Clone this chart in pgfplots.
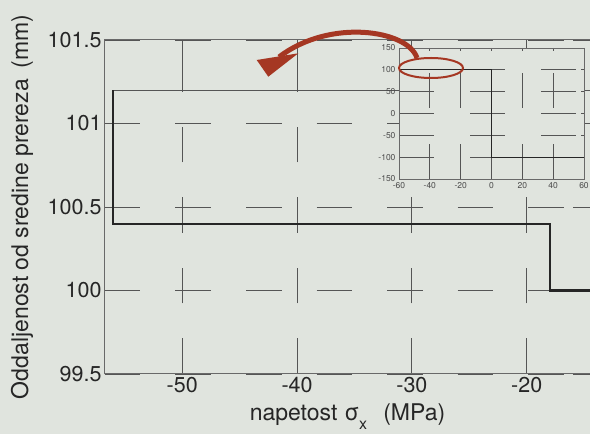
\documentclass[border=0pt]{standalone}
\usepackage{pgfplots}
\pgfplotsset{compat=1.18}
\usepackage{fontspec}
\setmainfont{TeX Gyre Heros}
\definecolor{paper}{RGB}{224,228,222}
\definecolor{arrowred}{RGB}{165,55,35}
\definecolor{gridgray}{RGB}{85,85,85}
\definecolor{framegray}{RGB}{105,105,105}

\begin{document}
\begin{tikzpicture}[x=1pt,y=1pt]
\path[use as bounding box] (0,0) rectangle (590,434);
\clip (0,0) rectangle (590,434);
\fill[paper] (0,0) rectangle (590,434);

% main plot
\begin{axis}[
  at={(105pt,60pt)}, anchor=south west,
  scale only axis, width=485pt, height=334pt,
  xmin=-56.73, xmax=-14.49, ymin=99.5, ymax=101.5,
  xtick={-50,-40,-30,-20}, xticklabels={-50,-40,-30,-20},
  ytick={99.5,100,100.5,101,101.5}, yticklabels={99.5,100,100.5,101,101.5},
  tick align=inside, major tick length=17pt,
  tick style={gridgray, line width=0.9pt},
  axis line style={framegray, line width=1pt},
  grid=major,
  major grid style={gridgray, line width=0.9pt, dash pattern=on 35.5pt off 35pt},
  ticklabel style={font=\fontsize{21.5}{25}\selectfont, text=black!85},
  xlabel={napetost\hspace{0.3em}σ\raisebox{-0.4em}{\fontsize{16}{16}\selectfont x}\hspace{0.7em}(MPa)},
  ylabel={Oddaljenost od sredine prereza\hspace{0.45em}(mm)},
  every axis x label/.style={at={(axis description cs:0.5,-0.127)},anchor=center,
    font=\fontsize{23}{27}\selectfont, text=black!85},
  every axis y label/.style={at={(axis description cs:-0.171,0.5)},anchor=center,rotate=90,
    font=\fontsize{23}{27}\selectfont, text=black!85},
]
\addplot[gridgray, line width=1pt] coordinates {(-56,101.2) (-10,101.2)};
\addplot[black!85, line width=2.2pt] coordinates {
  (-56,101.2) (-56,100.4) (-18,100.4) (-18,100) (-10,100)};
\end{axis}

% inset
\begin{axis}[
  at={(399pt,255pt)}, anchor=south west,
  scale only axis, width=185pt, height=131pt,
  xmin=-60, xmax=60, ymin=-150, ymax=150,
  xtick={-60,-40,-20,0,20,40,60}, xticklabels={-60,-40,-20,0,20,40,60},
  ytick={-150,-100,-50,0,50,100,150}, yticklabels={-150,-100,-50,0,50,100,150},
  axis background/.style={fill=paper},
  tick align=inside, major tick length=3pt,
  tick style={gridgray, line width=0.7pt},
  axis line style={framegray, line width=0.9pt},
  grid=major,
  major grid style={gridgray, line width=0.8pt, dash pattern=on 35pt off 36pt},
  ticklabel style={font=\fontsize{8.5}{9}\selectfont, text=black!70},
]
\addplot[black!85, line width=1.3pt] coordinates {
  (-60,100) (0,100) (0,-100) (60,-100)};
\end{axis}

% highlight and arrow
\begin{scope}[shift={(0,434)}, yscale=-1]
\draw[arrowred, line width=2pt] (431,68) ellipse [x radius=32, y radius=10];
\draw[arrowred, line width=5pt] (417,58) .. controls (408,30) and (330,18) .. (279,57);
\fill[arrowred] (256.7,60) -- (298.3,53.3) -- (268.3,76.7) -- cycle;
\end{scope}
\end{tikzpicture}
\end{document}
